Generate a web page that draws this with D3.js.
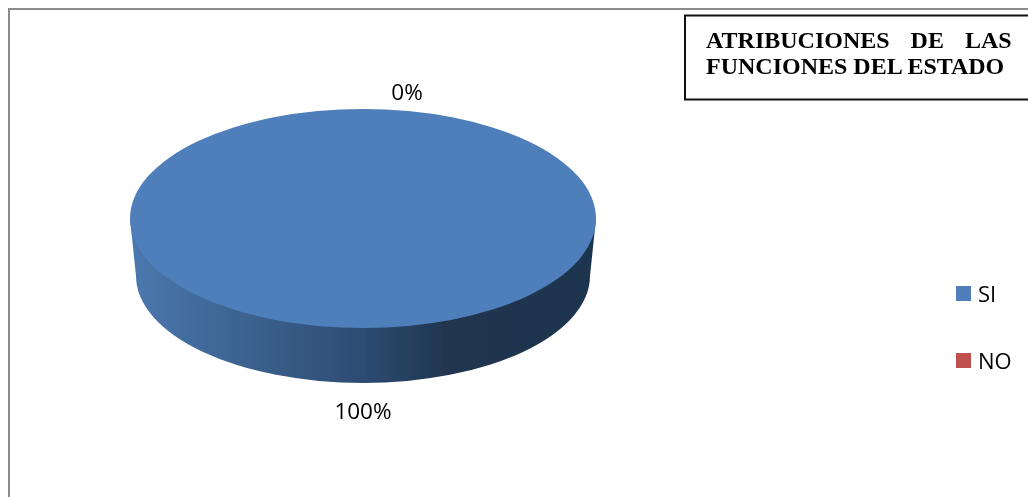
<!DOCTYPE html>
<html><head><meta charset="utf-8">
<script src="https://cdnjs.cloudflare.com/ajax/libs/d3/7.8.5/d3.min.js"></script>
<style>html,body{margin:0;padding:0;background:#fff;overflow:hidden}svg{display:block}</style>
</head><body><svg id="c" width="1028" height="497"></svg>
<script>
const categories = ["SI", "NO"];
const values = [100, 0];
const colors = ["#4e7fbb", "#c0504d"];
const titleLines = ["ATRIBUCIONES DE LAS", "FUNCIONES DEL ESTADO"];

const svg = d3.select("#c");
const defs = svg.append("defs");
const grad = defs.append("linearGradient").attr("id", "side");
[[0, "#4a78ae"], [0.25, "#3c628f"], [0.5, "#2d4c73"], [0.68, "#20354f"], [1, "#1f344f"]]
  .forEach(([o, c]) => grad.append("stop").attr("offset", o).attr("stop-color", c));
defs.append("filter").attr("id", "soft").append("feGaussianBlur").attr("stdDeviation", 0.35);

// outer frame
svg.append("rect").attr("x", 9).attr("y", 9).attr("width", 1100).attr("height", 600)
  .attr("fill", "#fff").attr("stroke", "#8c8c8c").attr("stroke-width", 2);

// pie geometry
const cx = 363, cy = 218.5, rx = 233, ry = 109.5, bcy = 276, brx = 227, bry = 107;
const pie = d3.pie().sort(null).startAngle(0).endAngle(2 * Math.PI)(values);
const arc = d3.arc().innerRadius(0).outerRadius(rx);

// side wall
svg.append("path")
  .attr("d", `M${cx - rx},${cy} L${cx - brx},${bcy} A${brx},${bry} 0 0 0 ${cx + brx},${bcy} L${cx + rx},${cy} Z`)
  .attr("fill", "url(#side)").attr("filter", "url(#soft)");

// top
svg.append("g").attr("transform", `translate(${cx},${cy}) scale(1,${ry / rx})`)
  .selectAll("path").data(pie).join("path")
  .attr("d", arc).attr("fill", (d, i) => colors[i]);

// data labels
const labelPos = [[363, 419], [407, 100]];
svg.selectAll("text.lab").data(pie).join("text").attr("class", "lab")
  .attr("x", (d, i) => labelPos[i][0]).attr("y", (d, i) => labelPos[i][1])
  .attr("text-anchor", "middle")
  .attr("font-family", "'Open Sans'").attr("font-size", 22.5).attr("fill", "#000")
  .attr("filter", "url(#soft)")
  .text(d => d.value + "%");

// legend
const ly = d3.scalePoint().domain(categories).range([293.5, 360.5]);
const lg = svg.selectAll("g.leg").data(categories).join("g").attr("class", "leg")
  .attr("transform", d => `translate(956,${ly(d)})`);
lg.append("rect").attr("x", 0).attr("y", -7.5).attr("width", 15).attr("height", 15)
  .attr("fill", (d, i) => colors[i]);
lg.append("text").attr("x", 22).attr("y", 8.5)
  .attr("font-family", "'Open Sans'").attr("font-size", 22).attr("fill", "#000")
  .attr("filter", "url(#soft)").text(d => d);

// title box
svg.append("rect").attr("x", 685).attr("y", 15.5).attr("width", 400).attr("height", 84)
  .attr("fill", "#fff").attr("stroke", "#111").attr("stroke-width", 2);
svg.selectAll("text.ttl").data(titleLines).join("text").attr("class", "ttl")
  .attr("x", 706).attr("y", (d, i) => 48 + i * 26)
  .attr("font-family", "'Liberation Serif'").attr("font-weight", "bold").attr("font-size", 24)
  .attr("fill", "#000")
  .attr("word-spacing", (d, i) => i === 0 ? 15 : 0)
  .attr("filter", "url(#soft)")
  .text(d => d);
</script></body></html>
